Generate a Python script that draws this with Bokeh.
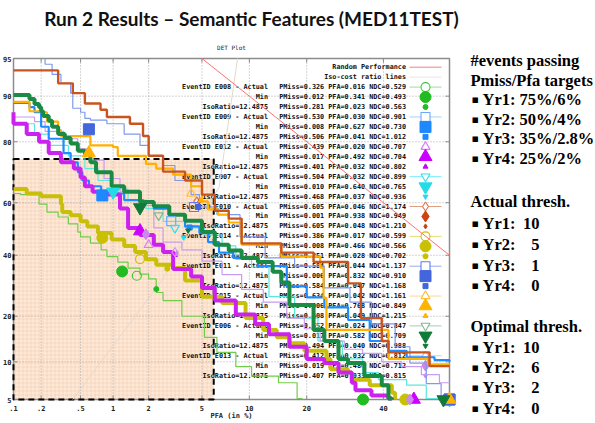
import math
from bokeh.plotting import figure
from bokeh.models import Range1d
from bokeh.core.properties import value
from bokeh.embed import file_html
from bokeh.resources import INLINE

# ---------------- data ----------------
title_text = "Run 2 Results \u2013 Semantic Features (MED11TEST)"

x_tick_pct = [0.1, 0.2, 0.5, 1, 2, 5, 10, 20, 40]
x_tick_labels = [".1", ".2", ".5", "1", "2", "5", "10", "20", "40"]
y_tick_pct = [5, 10, 20, 40, 60, 80, 90, 95]
y_tick_labels = ["5", "10", "20", "40", "60", "80", "90", "95"]
x_lim_pct = [0.1, 60]
y_lim_pct = [5, 95]

events = ["E008", "E009", "E012", "E007", "E010", "E014", "E011", "E015", "E006", "E013"]
act_pmiss = [0.326, 0.530, 0.439, 0.504, 0.605, 0.386, 0.584, 0.634, 0.552, 0.412]
act_pfa = [0.016, 0.030, 0.020, 0.032, 0.046, 0.017, 0.044, 0.042, 0.024, 0.032]
act_ndc = [0.529, 0.901, 0.707, 0.899, 1.174, 0.599, 1.137, 1.161, 0.847, 0.812]
min_pmiss = [0.012, 0.008, 0.017, 0.010, 0.001, 0.008, 0.006, 0.006, 0.017, 0.019]
min_pfa = [0.341, 0.627, 0.492, 0.640, 0.938, 0.466, 0.832, 0.768, 0.582, 0.480]
min_ndc = [0.493, 0.730, 0.704, 0.765, 0.949, 0.566, 0.910, 0.849, 0.709, 0.712]
iso_pmiss = [0.281, 0.506, 0.401, 0.468, 0.605, 0.351, 0.584, 0.608, 0.494, 0.407]
iso_pfa = [0.023, 0.041, 0.032, 0.037, 0.048, 0.028, 0.047, 0.049, 0.040, 0.033]
iso_ndc = [0.563, 1.012, 0.802, 0.936, 1.210, 0.702, 1.168, 1.215, 0.988, 0.815]
iso_ratio = "12.4875"

# DET curves (percent): step vertices
e010_pfa = [0.1, 0.3, 0.42, 0.55, 0.77, 0.88, 1.4, 1.8, 2.0, 2.6, 3.8, 5.0, 6.1, 7.5, 9.0, 15, 21.5, 30, 33.5, 39.5, 41.5, 54, 60]
e010_pmiss = [93.7, 92, 90.5, 88.7, 87.5, 86, 84.5, 81.5, 76, 71, 68, 63, 57, 54, 44.5, 41, 37.5, 30, 19.5, 14, 11.7, 9.3, 9.3]
e015_pfa = [0.1, 0.15, 0.21, 0.23, 0.3, 0.32, 0.62, 1.0, 1.1, 1.9, 2.3, 3.1, 4.2, 5.0, 5.5, 6.4, 7.5, 9.0, 15, 23, 23.8, 24.5, 41.5, 53.5, 60]
e015_pmiss = [89, 87.2, 87, 85, 83, 81.5, 79, 78.5, 76, 73.5, 72, 70, 66, 60.5, 57.5, 55.5, 52.5, 44, 39.5, 35.5, 25.3, 16.5, 10.5, 9.6, 9.6]
e006_pfa = [0.1, 0.15, 0.17, 0.19, 0.2, 0.21, 0.24, 0.26, 0.3, 0.35, 0.4, 0.47, 0.55, 0.62, 0.7, 0.97, 1.25, 1.7, 2.2, 2.9, 3.8, 5.0, 6.1, 7.5, 9.0, 11.2, 13.5, 15, 16.5, 21.5, 24, 27.5, 30, 34.5, 39.5, 41.5, 42.5]
e006_pmiss = [90.2, 89.5, 88.6, 88, 87.2, 86.2, 85.2, 83.8, 82, 81, 79.5, 77.5, 76.5, 74, 70.8, 66, 64, 60.3, 58.7, 55.5, 53.2, 48.8, 44, 41.8, 39, 37.5, 34, 30.3, 23.2, 16.5, 14, 10.5, 9.8, 7.8, 6.6, 5.1, 5]
e009_pfa = [0.1, 0.15, 0.17, 0.2, 0.24, 0.34, 0.4, 0.47, 0.52, 0.6, 0.78, 1.0, 1.25, 1.8, 2.2, 2.9, 3.8, 4.8, 5.5, 6.5, 8, 11.2, 16, 20, 24, 30, 36, 41.5, 47, 55.5, 60]
e009_pmiss = [88.8, 88, 87, 83.8, 80.8, 76.8, 74, 70.8, 68, 66, 64, 63.4, 61, 60, 57.8, 55.5, 51, 48.5, 45, 41, 39, 36, 29, 25.5, 22.5, 19, 14, 12, 10.8, 10.3, 10]
e011_pfa = [0.22, 0.22, 0.26, 0.32, 0.4, 0.42, 0.5, 0.55, 0.62, 0.88, 1.25, 1.7, 2.0, 2.6, 3.2, 4.2, 4.8, 6.3, 8.8, 12.3, 17.5, 24, 30.5, 36.5, 43.5, 48, 53, 57.5]
e011_pmiss = [95, 94.4, 93.2, 92, 90.5, 87.8, 87, 85.7, 85.3, 84.5, 82, 79, 76, 73, 68, 63, 58.4, 55.5, 47, 39, 36, 28.5, 24, 18, 12.8, 9.8, 6.8, 5]
e007_pfa = [0.1, 0.17, 0.24, 0.38, 0.55, 0.73, 0.97, 1.35, 1.9, 2.6, 3.8, 5.2, 6.8, 8.3, 10.3, 12.9, 17.5, 22.5, 28.5, 34, 38.5, 47, 53, 59.5]
e007_pmiss = [84.5, 82, 79, 76, 72, 68, 65, 61, 57.8, 52.9, 50.4, 47.7, 43.5, 38.5, 35.7, 25.7, 19.5, 14, 10.5, 8.3, 7.3, 6.6, 5.1, 5]
e012_pfa = [0.1, 0.1, 0.14, 0.19, 0.24, 0.32, 0.43, 0.5, 0.55, 0.65, 0.88, 1.15, 1.35, 1.7, 2.2, 2.6, 3.1, 4.2, 5.0, 6.1, 8.3, 10.8, 12.9, 16.5, 20, 24, 27.5, 31, 32, 36.5, 41.5, 42.5]
e012_pmiss = [87, 84.5, 82, 80, 76.8, 74, 72, 69, 66, 64, 63, 57.8, 50.4, 47.7, 44, 41.2, 35, 32.3, 28.5, 24.5, 20.5, 18, 15.5, 12.8, 10.5, 9.8, 8.3, 6.9, 6, 5.4, 5.1, 5]
e013_pfa = [0.1, 0.17, 0.22, 0.34, 0.47, 0.62, 0.83, 1.15, 1.7, 2.2, 2.6, 3.6, 5, 6.8, 9, 12, 16, 19.5, 23, 29, 34, 39.5, 45.5, 51.5, 57, 60]
e013_pmiss = [86, 85, 82.7, 80.8, 78, 74.7, 68.7, 64, 59, 50.4, 45, 42, 37.8, 33, 28, 24, 19.5, 16.8, 14, 12.3, 11.5, 10, 9.2, 8, 6.9, 6.9]
e014_pfa = [0.1, 0.14, 0.2, 0.32, 0.33, 0.4, 0.5, 0.58, 0.73, 0.97, 1.25, 1.55, 1.9, 2.3, 3.1, 3.8, 5.0, 6.8, 9.5, 12, 14.2, 16.5, 19.5, 24.5, 25.5, 30, 31, 36, 42.5, 43.5]
e014_pmiss = [65, 63.4, 62.4, 59.5, 56.5, 55.3, 53, 51, 48.5, 46, 43.5, 41.2, 38.5, 36.5, 35.3, 31, 25.7, 23.8, 19.5, 16.5, 14.8, 13.5, 12, 10.5, 8.8, 8.3, 7.3, 6.6, 5.7, 5]
e008_pfa = [0.1, 0.12, 0.19, 0.23, 0.3, 0.38, 0.47, 0.5, 0.62, 0.78, 0.88, 1.1, 1.35, 1.7, 2.0, 2.3, 2.6, 3.6, 5.2, 6.3, 8.3, 10.3, 14.5, 18, 19]
e008_pmiss = [63.4, 63, 59.5, 56.5, 54.6, 52, 48.8, 47, 44.6, 42, 39.5, 37.5, 35.3, 33.2, 31.5, 27, 24.5, 20, 14.8, 11.7, 9.2, 7.8, 6.9, 5.1, 5]

rand_pfa = [5, 60]
rand_pmiss = [95, 40]
isoline_pfa = [0.42, 2.6, 3.2, 6.5, 8.5]
isoline_pmiss = [5, 31.5, 40, 65.5, 95]

target_pfa = 6
target_pmiss = 75

side_targets = ["Yr1: 75%/6%", "Yr2: 50%/4%", "Yr3: 35%/2.8%", "Yr4: 25%/2%"]
side_years = ["Yr1:", "Yr2:", "Yr3:", "Yr4:"]
actual_thresh = ["10", "5", "1", "0"]
optimal_thresh = ["10", "6", "2", "0"]


# ---------------- helpers ----------------
def probit(p):
    a = [-3.969683028665376e+01, 2.209460984245205e+02, -2.759285104469687e+02,
         1.383577518672690e+02, -3.066479806614716e+01, 2.506628277459239e+00]
    b = [-5.447609879822406e+01, 1.615858368580409e+02, -1.556989798598866e+02,
         6.680131188771972e+01, -1.328068155288572e+01]
    c = [-7.784894002430293e-03, -3.223964580411365e-01, -2.400758277161838e+00,
         -2.549732539343734e+00, 4.374664141464968e+00, 2.938163982698783e+00]
    d = [7.784695709041462e-03, 3.224671290700398e-01, 2.445134137142996e+00,
         3.754408661907416e+00]
    plow = 0.02425
    if p < plow:
        q = math.sqrt(-2 * math.log(p))
        return (((((c[0]*q+c[1])*q+c[2])*q+c[3])*q+c[4])*q+c[5]) / ((((d[0]*q+d[1])*q+d[2])*q+d[3])*q+1)
    if p <= 1 - plow:
        q = p - 0.5
        r = q * q
        return (((((a[0]*r+a[1])*r+a[2])*r+a[3])*r+a[4])*r+a[5])*q / (((((b[0]*r+b[1])*r+b[2])*r+b[3])*r+b[4])*r+1)
    q = math.sqrt(-2 * math.log(1 - p))
    return -(((((c[0]*q+c[1])*q+c[2])*q+c[3])*q+c[4])*q+c[5]) / ((((d[0]*q+d[1])*q+d[2])*q+d[3])*q+1)


def pz(vals_pct):
    return [probit(v / 100.0) for v in vals_pct]


X0, X1 = probit(x_lim_pct[0] / 100), probit(x_lim_pct[1] / 100)
Y0, Y1 = probit(y_lim_pct[0] / 100), probit(y_lim_pct[1] / 100)

MONO = "DejaVu Sans Mono"
SERIF = "Liberation Serif"

# page layout (px) and where the DET frame sits on it
PAGE_W, PAGE_H = 595, 423
FL, FR, FT, FB = 13, 449, 58, 399
kx = (X1 - X0) / (FR - FL)
ky = (Y1 - Y0) / (FB - FT)

# one canvas in page pixels; the DET plot uses its own (normal-deviate) ranges
p = figure(width=PAGE_W, height=PAGE_H, x_range=Range1d(0, PAGE_W), y_range=Range1d(PAGE_H, 0),
           min_border=0, x_axis_location=None, y_axis_location=None, toolbar_location=None,
           output_backend="svg", title=None, outline_line_color=None,
           background_fill_color="white", border_fill_color="white")
p.xgrid.visible = False
p.ygrid.visible = False
p.extra_x_ranges = {"det_x": Range1d(X0 - FL * kx, X0 + (PAGE_W - FL) * kx)}
p.extra_y_ranges = {"det_y": Range1d(Y0 - (PAGE_H - FB) * ky, Y1 + FT * ky)}
D = dict(x_range_name="det_x", y_range_name="det_y")

# ---------- title ----------
p.text(x=[251], y=[18], text=[title_text], text_align="center", text_baseline="middle",
       text_font=value("Lato"), text_font_style="bold", text_font_size="19px", text_color="#111111")
p.text(x=[231], y=[47], text=["DET Plot"], text_align="center", text_baseline="middle",
       text_font=value(MONO), text_font_size="6px", text_color="#222222")

# ---------- DET frame, target box, grid ----------
xt = pz(x_tick_pct)
yt = pz(y_tick_pct)

box = p.quad(left=[X0], right=[probit(target_pfa / 100)], bottom=[Y0], top=[probit(target_pmiss / 100)],
             fill_color="#fde9da", fill_alpha=1.0, hatch_pattern="cross", hatch_color="#f5c9a5",
             hatch_scale=4, hatch_weight=0.6, hatch_alpha=0.9, line_color=None, **D)
box.level = "image"

p.segment(x0=xt, x1=xt, y0=[Y0] * len(xt), y1=[Y1] * len(xt), line_color="#a8a8a8",
          line_dash="1 2", line_width=1, **D)
p.segment(x0=[X0] * len(yt), x1=[X1] * len(yt), y0=yt, y1=yt, line_color="#a8a8a8",
          line_dash="1 2", line_width=1, **D)
p.quad(left=[X0], right=[X1], bottom=[Y0], top=[Y1], fill_color=None,
       line_color="#8c8c8c", line_width=1.5, **D)
p.ray(x=xt, y=[Y0]*len(xt), length=4, length_units="screen", angle=math.pi/2, line_color="#8c8c8c", **D)
p.ray(x=xt, y=[Y1]*len(xt), length=4, length_units="screen", angle=-math.pi/2, line_color="#8c8c8c", **D)
p.ray(x=[X0]*len(yt), y=yt, length=4, length_units="screen", angle=0, line_color="#8c8c8c", **D)
p.ray(x=[X1]*len(yt), y=yt, length=4, length_units="screen", angle=math.pi, line_color="#8c8c8c", **D)
p.quad(left=[X0], right=[probit(target_pfa / 100)], bottom=[Y0], top=[probit(target_pmiss / 100)],
       fill_color=None, line_color="black", line_width=2, line_dash="6 4", **D)

# tick labels and axis title
p.text(x=xt, y=[407] * len(xt), text=x_tick_labels, text_align="center", text_baseline="middle",
       text_font=value(MONO), text_font_style="bold", text_font_size="7px", text_color="#222222",
       x_range_name="det_x")
p.text(x=[FL - 2] * len(yt), y=yt, text=y_tick_labels, text_align="right", text_baseline="middle",
       text_font=value(MONO), text_font_style="bold", text_font_size="7px", text_color="#222222",
       y_range_name="det_y")
p.text(x=[231], y=[415.5], text=["PFA (in %)"], text_align="center", text_baseline="middle",
       text_font=value(MONO), text_font_style="bold", text_font_size="7px", text_color="#222222")

# ---------------- legend (drawn under curves) ----------------
ev_colors = ["#22bb22", "#1e88ff", "#cc00ff", "#22dde8", "#cc4411",
             "#c8c000", "#4466dd", "#ffb300", "#107a38", "#cc88ee"]
ev_open_colors = ["#33cc33", "#6aa8ff", "#dd77ff", "#33ddee", "#dd7744",
                  "#c8c000", "#6677ee", "#ffc040", "#7fb895", "#cc99ff"]
ev_leg_line = ["#99e099", "#a8d0ff", None, "#77eeff", "#e0a080",
               "#e0e070", "#99a8f0", "#ffd890", "#a0d0b0", "#d8c0ff"]
ev_markers = ["circle", "square", "triangle", "inverted_triangle", "diamond",
              "circle", "square", "triangle", "inverted_triangle", "diamond"]

left_txt, right_txt = ["", ""], ["Random Performance", "Iso-cost ratio lines"]
for i, ev in enumerate(events):
    left_txt += ["EventID %s - Actual" % ev, "Min", "IsoRatio=%s" % iso_ratio]
    right_txt += ["PMiss=%.3f PFA=%.3f NDC=%.3f" % (act_pmiss[i], act_pfa[i], act_ndc[i]),
                  "PMiss=%.3f PFA=%.3f NDC=%.3f" % (min_pmiss[i], min_pfa[i], min_ndc[i]),
                  "PMiss=%.3f PFA=%.3f NDC=%.3f" % (iso_pmiss[i], iso_pfa[i], iso_ndc[i])]
row_py = [66.7 + 9.95 * i for i in range(len(right_txt))]

p.text(x=[267.5] * len(left_txt), y=row_py, text=left_txt, text_align="right",
       text_baseline="middle", text_font=value(MONO), text_font_style="bold",
       text_font_size="6.8px", text_color="#111111")
p.text(x=[405.5] * len(right_txt), y=row_py, text=right_txt, text_align="right",
       text_baseline="middle", text_font=value(MONO), text_font_style="bold",
       text_font_size="6.8px", text_color="#111111")

p.segment(x0=[409], x1=[441], y0=[row_py[0]], y1=[row_py[0]], line_color="#ff7b7b", line_width=1)
p.segment(x0=[409], x1=[441], y0=[row_py[1]], y1=[row_py[1]], line_color="#e6e6e6", line_width=1)
for i in range(len(events)):
    ya, ym, yi = row_py[2 + 3*i], row_py[3 + 3*i], row_py[4 + 3*i]
    if ev_leg_line[i]:
        p.segment(x0=[409], x1=[441], y0=[ya], y1=[ya], line_color=ev_leg_line[i], line_width=1)
    big = 13 if "triangle" in ev_markers[i] else 11
    p.scatter(x=[425], y=[ya], marker=ev_markers[i], size=9, fill_color="white",
              line_color=ev_open_colors[i], line_width=1.1)
    p.scatter(x=[425], y=[ym], marker=ev_markers[i], size=big, fill_color=ev_colors[i],
              line_color=ev_colors[i])
    p.scatter(x=[425], y=[yi], marker=ev_markers[i], size=5, fill_color=ev_colors[i],
              line_color=ev_colors[i])

# ---------------- reference lines ----------------
p.line(x=pz(isoline_pfa), y=pz(isoline_pmiss), line_color="#e4d8cc", line_width=1, **D)
p.line(x=pz(rand_pfa), y=pz(rand_pmiss), line_color="#ff7070", line_width=1, **D)

# ---------------- DET curves ----------------
curves = [
    (e011_pfa, e011_pmiss, "#8098ee", 1.2),
    (e007_pfa, e007_pmiss, "#5fe6dc", 1.2),
    (e013_pfa, e013_pmiss, "#c89cf0", 1.2),
    (e008_pfa, e008_pmiss, "#72cc4c", 1.2),
    (e009_pfa, e009_pmiss, "#1e8cff", 2.2),
    (e015_pfa, e015_pmiss, "#ffb000", 2.2),
    (e010_pfa, e010_pmiss, "#c85520", 2.4),
    (e014_pfa, e014_pmiss, "#c8bf0a", 4),
    (e012_pfa, e012_pmiss, "#cc22ee", 4),
    (e006_pfa, e006_pmiss, "#1a8a45", 4),
]
for xs, ys, col, w in curves:
    p.step(x=pz(xs), y=pz(ys), mode="after", line_color=col, line_width=w, **D)

# ---------------- operating points ----------------
for i in range(len(events)):
    mk = ev_markers[i]
    big = 13 if "triangle" in mk else 11
    p.scatter(x=[probit(act_pfa[i])], y=[probit(act_pmiss[i])], marker=mk, size=9,
              fill_color=None, line_color=ev_open_colors[i], line_width=1.2, **D)
    p.scatter(x=[probit(iso_pfa[i])], y=[probit(iso_pmiss[i])], marker=mk, size=5,
              fill_color=ev_colors[i], line_color=ev_colors[i], **D)
    # min point as the tool plotted it (PMiss on x, PFA on y), when inside the plot
    if min_pmiss[i] > x_lim_pct[0] / 100:
        p.scatter(x=[probit(min_pmiss[i])], y=[probit(min_pfa[i])], marker=mk, size=big,
                  fill_color=ev_colors[i], line_color=ev_colors[i], **D)
    # min point at its (pfa, pmiss), held at the plot edges
    p.scatter(x=[probit(min(min_pfa[i], x_lim_pct[1] / 100))],
              y=[probit(max(min_pmiss[i], y_lim_pct[0] / 100))], marker=mk, size=big,
              fill_color=ev_colors[i], line_color=ev_colors[i], **D)

# ---------- notes panel ----------
n_x, n_y, n_t, n_a = [], [], [], []
b_x, b_y = [], []


def note(px, py, text, align="left"):
    n_x.append(px); n_y.append(py); n_t.append(text); n_a.append(align)


note(470, 60, "#events passing")
note(470, 80, "Pmiss/Pfa targets")
for k, t in enumerate(side_targets):
    yy = 99 + 19.7 * k
    b_x.append(471); b_y.append(yy)
    note(482, yy, t)
note(470, 201, "Actual thresh.")
for k in range(4):
    yy = 223 + 20.8 * k
    b_x.append(471); b_y.append(yy)
    note(482, yy, side_years[k])
    note(539, yy, actual_thresh[k], "right")
note(470, 326, "Optimal thresh.")
for k in range(4):
    yy = 347 + 20.2 * k
    b_x.append(471); b_y.append(yy)
    note(482, yy, side_years[k])
    note(539, yy, optimal_thresh[k], "right")

p.text(x=n_x, y=n_y, text=n_t, text_align=n_a, text_baseline="middle",
       text_font=value(SERIF), text_font_style="bold", text_font_size="16.5px", text_color="black")
p.text(x=b_x, y=b_y, text=["\u25aa"] * len(b_x), text_align="left", text_baseline="middle",
       text_font=value("DejaVu Sans"), text_font_size="11px", text_color="black")

open("out.html", "w").write(file_html(p, INLINE))
